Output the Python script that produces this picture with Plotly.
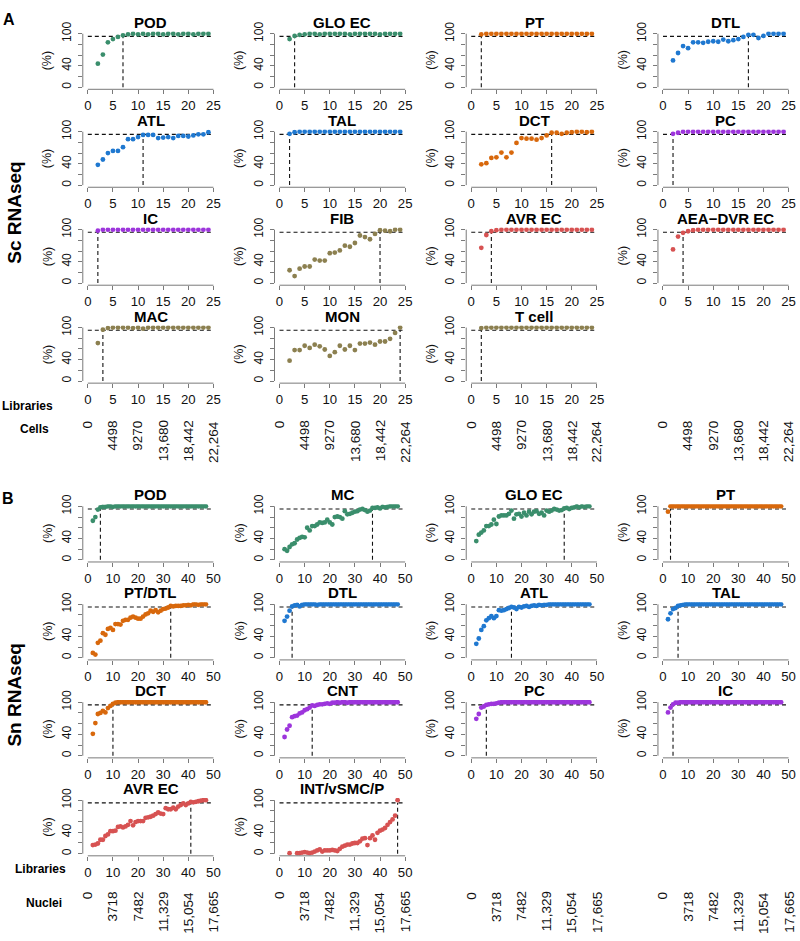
import plotly.graph_objects as go

W, H = 800, 941
FONT = "Liberation Sans"

# ---------------- data ----------------
libs_a = [2, 3, 4, 5, 6, 7, 8, 9, 10, 11, 12, 13, 14, 15, 16, 17, 18, 19, 20, 21, 22, 23, 24]
libs_b = [2, 3, 4, 5, 6, 7, 8, 9, 10, 11, 12, 13, 14, 15, 16, 17, 18, 19, 20, 21, 22, 23, 24,
          25, 26, 27, 28, 29, 30, 31, 32, 33, 34, 35, 36, 37, 38, 39, 40, 41, 42, 43, 44, 45, 46, 47]

# Panel A (Sc RNAseq), x = libraries 2..24
a_pod = [44, 61, 84, 90, 94, 97, 99, 100, 99, 100, 99, 100, 100, 99, 100, 100, 99, 100, 100, 99, 100, 100, 100]
a_glo_ec = [90, 96, 98, 99, 100, 100, 99, 100, 100, 100, 100, 100, 99, 100, 100, 100, 100, 100, 99, 100, 100, 100, 100]
a_pt = [99, 100, 100, 100, 100, 100, 100, 100, 100, 100, 100, 100, 100, 100, 100, 100, 100, 100, 100, 100, 100, 100, 100]
a_dtl = [50, 64, 77, 73, 84, 84, 83, 85, 86, 85, 89, 86, 88, 90, 94, 98, 98, 92, 96, 100, 100, 100, 100]
a_atl = [38, 48, 60, 64, 64, 71, 86, 86, 90, 94, 94, 94, 88, 89, 90, 88, 92, 92, 91, 93, 95, 95, 99]
a_tal = [96, 99, 100, 100, 100, 100, 100, 100, 100, 100, 100, 100, 100, 100, 100, 100, 100, 100, 100, 100, 100, 100, 100]
a_dct = [39, 41, 51, 52, 61, 52, 61, 79, 88, 87, 87, 85, 88, 93, 98, 98, 96, 98, 99, 100, 100, 99, 100]
a_pc = [96, 98, 100, 100, 100, 100, 100, 100, 100, 100, 100, 100, 100, 100, 100, 100, 100, 100, 100, 100, 100, 100, 100]
a_ic = [98, 100, 100, 100, 100, 100, 100, 100, 100, 100, 100, 100, 100, 100, 100, 100, 100, 100, 100, 100, 100, 100, 100]
a_fib = [24, 13, 27, 31, 31, 44, 42, 42, 56, 57, 61, 70, 68, 75, 89, 86, 82, 92, 99, 98, 97, 100, 100]
a_avr_ec = [66, 90, 97, 99, 100, 100, 100, 100, 100, 100, 100, 100, 100, 100, 100, 100, 100, 100, 100, 100, 100, 100, 100]
a_aea_dvr_ec = [63, 87, 94, 97, 99, 100, 100, 100, 100, 100, 100, 100, 100, 100, 100, 100, 100, 100, 100, 100, 100, 100, 100]
a_mac = [71, 96, 99, 100, 100, 100, 100, 99, 100, 98, 100, 100, 100, 100, 100, 100, 100, 100, 100, 100, 100, 100, 100]
a_mon = [38, 58, 58, 66, 62, 68, 65, 59, 47, 54, 66, 59, 66, 58, 70, 70, 72, 68, 74, 74, 79, 90, 100]
a_t_cell = [99, 100, 100, 100, 100, 100, 100, 100, 100, 100, 100, 100, 100, 100, 100, 100, 100, 100, 100, 100, 100, 100, 100]

a_names = ["POD", "GLO EC", "PT", "DTL", "ATL", "TAL", "DCT", "PC", "IC", "FIB",
           "AVR EC", "AEA\u2212DVR EC", "MAC", "MON", "T cell"]
a_series = [a_pod, a_glo_ec, a_pt, a_dtl, a_atl, a_tal, a_dct, a_pc, a_ic, a_fib,
            a_avr_ec, a_aea_dvr_ec, a_mac, a_mon, a_t_cell]
a_thresholds = [7, 3, 2, 17, 11, 2, 16, 2, 2, 20, 4, 4, 3, 24, 2]
a_groups = ["green", "green", "orange", "blue", "blue", "blue", "orange", "purple", "purple", "olive",
            "red", "red", "olive", "olive", "olive"]

# Panel B (Sn RNAseq), x = libraries 2..47
b_pod = [73, 80, 94, 98, 99, 99, 100, 100, 99, 100,
         100, 100, 100, 100, 100, 100, 100, 100, 100, 100,
         100, 100, 100, 100, 100, 100, 100, 100, 100, 100,
         100, 100, 100, 100, 100, 100, 100, 100, 100, 100,
         100, 100, 100, 100, 100, 100]
b_mc = [20, 17, 24, 29, 31, 38, 41, 43, 42, 60,
        55, 63, 63, 66, 70, 69, 70, 75, 70, 66,
        80, 81, 80, 77, 91, 85, 86, 88, 90, 91,
        94, 95, 93, 90, 92, 97, 97, 98, 96, 99,
        98, 99, 100, 100, 100, 100]
b_glo_ec = [35, 47, 51, 55, 63, 63, 66, 75, 67, 81,
            83, 83, 83, 86, 92, 77, 85, 86, 81, 88,
            83, 90, 85, 90, 91, 86, 88, 83, 92, 90,
            92, 95, 94, 92, 93, 96, 97, 95, 97, 98,
            100, 98, 100, 99, 100, 100]
b_pt = [90, 100, 100, 100, 100, 100, 100, 100, 100, 100,
        100, 100, 100, 100, 100, 100, 100, 100, 100, 100,
        100, 100, 100, 100, 100, 100, 100, 100, 100, 100,
        100, 100, 100, 100, 100, 100, 100, 100, 100, 100,
        100, 100, 100, 100, 100, 100]
b_pt_dtl = [9, 6, 28, 32, 46, 43, 54, 56, 52, 63,
            63, 62, 69, 71, 71, 75, 77, 75, 73, 73,
            77, 81, 83, 88, 86, 89, 85, 88, 91, 92,
            94, 97, 96, 97, 97, 97, 98, 98, 99, 98,
            100, 100, 99, 100, 100, 100]
b_dtl = [69, 77, 88, 96, 98, 99, 96, 99, 100, 100,
         100, 100, 100, 99, 100, 100, 100, 100, 100, 100,
         100, 100, 100, 100, 100, 100, 100, 100, 100, 100,
         100, 100, 100, 100, 100, 100, 100, 100, 100, 100,
         100, 100, 100, 100, 100, 100]
b_atl = [26, 36, 52, 59, 70, 74, 78, 74, 78, 89,
         88, 89, 91, 93, 95, 94, 91, 95, 94, 96,
         97, 95, 97, 98, 97, 99, 98, 99, 99, 100,
         100, 100, 100, 100, 100, 100, 100, 100, 100, 100,
         100, 100, 100, 100, 100, 100]
b_tal = [72, 83, 91, 93, 97, 98, 99, 100, 100, 100,
         100, 100, 100, 100, 100, 100, 100, 100, 100, 100,
         100, 100, 100, 100, 100, 100, 100, 100, 100, 100,
         100, 100, 100, 100, 100, 100, 100, 100, 100, 100,
         100, 100, 100, 100, 100, 100]
b_dct = [41, 61, 78, 80, 84, 81, 89, 93, 97, 99,
         100, 100, 100, 100, 100, 100, 100, 100, 100, 100,
         100, 100, 100, 100, 100, 100, 100, 100, 100, 100,
         100, 100, 100, 100, 100, 100, 100, 100, 100, 100,
         100, 100, 100, 100, 100, 100]
b_cnt = [35, 49, 56, 72, 74, 75, 79, 81, 85, 87,
         90, 94, 93, 95, 96, 96, 97, 98, 97, 99,
         99, 100, 99, 100, 100, 99, 100, 100, 100, 100,
         100, 100, 100, 100, 100, 100, 100, 100, 100, 100,
         100, 100, 100, 100, 100, 100]
b_pc = [69, 78, 90, 92, 95, 96, 97, 97, 98, 99,
        100, 100, 100, 100, 100, 100, 100, 100, 100, 100,
        100, 100, 100, 100, 100, 100, 100, 100, 100, 100,
        100, 100, 100, 100, 100, 100, 100, 100, 100, 100,
        100, 100, 100, 100, 100, 100]
b_ic = [81, 90, 96, 99, 99, 100, 100, 100, 100, 100,
        100, 100, 100, 100, 100, 100, 100, 100, 100, 100,
        100, 100, 100, 100, 100, 100, 100, 100, 100, 100,
        100, 100, 100, 100, 100, 100, 100, 100, 100, 100,
        100, 100, 100, 100, 100, 100]
b_avr_ec = [16, 17, 19, 26, 26, 33, 36, 42, 42, 43,
            50, 51, 49, 51, 54, 61, 53, 59, 61, 61,
            61, 67, 68, 69, 71, 74, 77, 75, 74, 85,
            83, 83, 86, 83, 88, 91, 94, 91, 94, 97,
            96, 97, 98, 99, 100, 100]
b_int_vsmc_p = [None, None, 1, None, None, 1, 1, 2, 3, 2,
                1, 2, 4, 6, 8, 4, 6, 6, 6, 7,
                6, 5, 9, 13, 15, 17, 17, 19, 20, 20,
                23, 28, 29, 16, 29, 34, 26, 39, 43, 45,
                48, 54, 59, 64, 71, 100]

b_names = ["POD", "MC", "GLO EC", "PT", "PT/DTL", "DTL", "ATL", "TAL", "DCT", "CNT",
           "PC", "IC", "AVR EC", "INT/vSMC/P"]
b_series = [b_pod, b_mc, b_glo_ec, b_pt, b_pt_dtl, b_dtl, b_atl, b_tal, b_dct, b_cnt,
            b_pc, b_ic, b_avr_ec, b_int_vsmc_p]
b_thresholds = [5, 37, 37, 3, 33, 5, 16, 6, 10, 13, 6, 4, 41, 47]
b_groups = ["green", "green", "green", "orange", "orange", "blue", "blue", "blue", "orange", "purple",
            "purple", "purple", "red", "red"]

lib_ticks_a = [0, 5, 10, 15, 20, 25]
lib_ticks_b = [0, 10, 20, 30, 40, 50]
cells_ticklabels = ["0", "4498", "9270", "13,680", "18,442", "22,264"]
nuclei_ticklabels = ["0", "3718", "7482", "11,329", "15,054", "17,665"]
pct_ticks = [0, 20, 40, 60, 80, 100]
pct_ticktext = ["0", "", "40", "", "", "100"]
cutoff_pct = 95

# ---------------- style ----------------
COLORS = {"green": "#3a8e6c", "orange": "#d8680c", "blue": "#1f78d0",
          "purple": "#9d35dc", "olive": "#8c8050", "red": "#d75252"}
AXC = "#7a7a7a"
XTICK_FS = 13.2
YTICK_FS = 12
COUNT_FS = 13.5
TITLE_FS = 15

COL_LEFT = [83 + 192.2 * c for c in range(4)]
PLOT_W = 136


def px_x(p):
    return p / W


def px_y(p):
    return 1 - p / H


fig = go.Figure()
layout_axes = {}
shapes = []
annotations = []


def add_subplot(idx, col, top_px, bot_px, xs, ys, thr, color, title, xmax, xpad, xticks):
    s = "" if idx == 1 else str(idx)
    xr, yr = "x" + s, "y" + s
    left = COL_LEFT[col]
    layout_axes["xaxis" + s] = dict(
        domain=[px_x(left), px_x(left + PLOT_W)], range=[-xpad, xmax + xpad], anchor=yr,
        tickmode="array", tickvals=xticks, ticks="outside", ticklen=4, tickwidth=1, tickcolor=AXC,
        showline=False, showgrid=False, zeroline=False, ticklabelstandoff=0,
        tickfont=dict(size=XTICK_FS, color="#111", family=FONT), fixedrange=True)
    layout_axes["yaxis" + s] = dict(
        domain=[px_y(bot_px), px_y(top_px)], range=[-4, 104], anchor=xr,
        tickmode="array", tickvals=pct_ticks, ticktext=pct_ticktext, tickangle=-90,
        ticks="outside", ticklen=4, tickwidth=1, tickcolor=AXC,
        showline=False, showgrid=False, zeroline=False, ticklabelstandoff=2,
        tickfont=dict(size=YTICK_FS, color="#111", family=FONT), fixedrange=True)
    # axis lines (R style: spanning only the tick range)
    shapes.append(dict(type="line", xref=xr, yref=yr + " domain", x0=xticks[0], x1=xticks[-1],
                       y0=0, y1=0, line=dict(color=AXC, width=1)))
    shapes.append(dict(type="line", xref=xr + " domain", yref=yr, x0=0, x1=0,
                       y0=pct_ticks[0], y1=pct_ticks[-1], line=dict(color=AXC, width=1)))
    fig.add_trace(go.Scatter(
        x=[xticks[0], xticks[-1], None, thr, thr],
        y=[cutoff_pct, cutoff_pct, None, pct_ticks[0], cutoff_pct],
        mode="lines", line=dict(color="#111", width=1.1, dash="4px,3px"),
        xaxis=xr, yaxis=yr, showlegend=False, hoverinfo="skip"))
    fig.add_trace(go.Scatter(
        x=xs, y=ys, mode="markers", marker=dict(size=4.8, color=color),
        xaxis=xr, yaxis=yr, showlegend=False, hoverinfo="skip"))
    # title
    annotations.append(dict(text="<b>%s</b>" % title, xref="paper", yref="paper",
                            x=px_x(left + PLOT_W / 2), y=px_y(top_px - 9.5),
                            xanchor="center", yanchor="middle", showarrow=False,
                            font=dict(size=TITLE_FS, color="black", family=FONT)))
    # (%) label
    y0px = bot_px - (bot_px - top_px) * 4 / 108
    y100px = top_px + (bot_px - top_px) * 4 / 108
    annotations.append(dict(text="(%)", xref="paper", yref="paper",
                            x=px_x(left - 35), y=px_y((y0px + y100px) / 2), textangle=-90,
                            xanchor="center", yanchor="middle", showarrow=False,
                            font=dict(size=12.5, color="#111", family=FONT)))
    return xr


def add_panel(series, names, thresholds, groups, xs, xmax, xpad, xticks, top0, pitch, h, idx0,
              count_labels, count_top_px):
    bottom_ref = {}
    for i, (ys, nm, thr, g) in enumerate(zip(series, names, thresholds, groups)):
        r, c = divmod(i, 4)
        top = top0 + pitch * r
        xr = add_subplot(idx0 + i, c, top, top + h, xs, ys, thr, COLORS[g], nm, xmax, xpad, xticks)
        bottom_ref[c] = xr
    for c in range(4):
        for tv, tl in zip(xticks, count_labels):
            annotations.append(dict(text=tl, xref=bottom_ref[c], yref="paper", x=tv,
                                    y=px_y(count_top_px), textangle=-90, xanchor="center",
                                    yanchor="top", showarrow=False,
                                    font=dict(size=COUNT_FS, color="#111", family=FONT)))


add_panel(a_series, a_names, a_thresholds, a_groups, libs_a, 25, 1, lib_ticks_a,
          21.84, 99.0, 58.32, 1, cells_ticklabels, 413)
add_panel(b_series, b_names, b_thresholds, b_groups, libs_b, 50, 2, lib_ticks_b,
          499.5, 99.0, 58.4, 16, nuclei_ticklabels, 889)


def label(text, xp, yp, size, bold=True, angle=0):
    annotations.append(dict(text=("<b>%s</b>" % text) if bold else text, xref="paper", yref="paper",
                            x=px_x(xp), y=px_y(yp), xanchor="center", yanchor="middle",
                            textangle=angle, showarrow=False,
                            font=dict(size=size, color="black", family=FONT)))


label("A", 9, 10, 16)
label("B", 8, 494, 16)
label("Sc RNAseq", 15, 205, 19, angle=-90)
label("Sn RNAseq", 15, 692, 19, angle=-90)
label("Libraries", 28, 400, 12)
label("Cells", 34.5, 423.5, 12)
label("Libraries", 41, 868, 12)
label("Nuclei", 44, 903, 12)

fig.update_layout(
    width=W, height=H, margin=dict(l=0, r=0, t=0, b=0),
    paper_bgcolor="white", plot_bgcolor="white",
    font=dict(family=FONT, color="black"),
    showlegend=False, shapes=shapes, annotations=annotations,
    **layout_axes)

fig.write_html("out.html", config={"displayModeBar": False, "staticPlot": True},
               post_script="document.body.style.margin='0';document.body.style.overflow='hidden';")
